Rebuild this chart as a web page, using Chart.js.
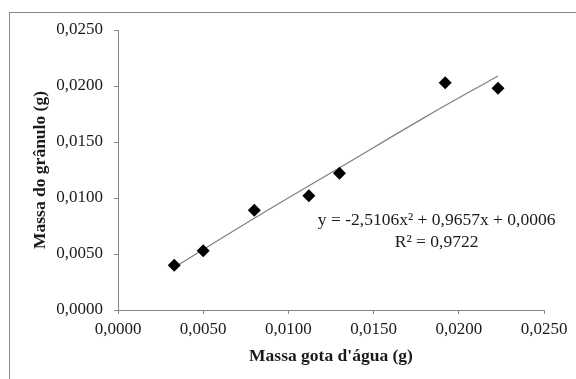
<!DOCTYPE html>
<html>
<head>
<meta charset="utf-8">
<script src="https://cdn.jsdelivr.net/npm/chart.js@4"></script>
<style>
  html, body { margin: 0; padding: 0; background: #fff; }
  #wrap { position: relative; width: 576px; height: 379px; overflow: hidden; }
  #frame { position: absolute; left: 9px; top: 12px; width: 700px; height: 500px; border: 1px solid #8a8a8a; }
  #grafico { position: absolute; left: 0; top: 0; }
</style>
</head>
<body>
<div id="wrap">
  <div id="frame"></div>
  <canvas id="grafico" width="576" height="379"></canvas>
</div>
<script>
// pontos medidos
const massaGota = [0.0033, 0.0050, 0.0080, 0.0112, 0.0130, 0.0192, 0.0223];
const massaGranulo = [0.0040, 0.0053, 0.0089, 0.0102, 0.0122, 0.0203, 0.0198];

// linha de tendência (polinomial)
const tendX = [0.0033, 0.0080, 0.0130, 0.0180, 0.0223];
const tendY = [0.0038, 0.0082, 0.0127, 0.0172, 0.0209];

const equacao = ["y = -2,5106x² + 0,9657x + 0,0006", "R² = 0,9722"];

const fonte = "'Liberation Serif', 'Times New Roman', serif";
const corEixo = "#868686";

const virgula = v => v.toFixed(4).replace(".", ",");

const textoEquacao = {
    id: "textoEquacao",
    afterDatasetsDraw(chart) {
        const { ctx, scales } = chart;
        const x = scales.x.getPixelForValue(0.0187);
        const y = scales.y.getPixelForValue(0.0080);
        ctx.save();
        ctx.font = "17.5px " + fonte;
        ctx.fillStyle = "#1a1a1a";
        ctx.textAlign = "center";
        ctx.textBaseline = "middle";
        equacao.forEach((linha, i) => ctx.fillText(linha, x, y + i * 22));
        ctx.restore();
    }
};

const ctx = document.getElementById("grafico").getContext("2d");

new Chart(ctx, {
    type: "scatter",
    data: {
        datasets: [
            {
                label: "Dados",
                data: massaGota.map((v, i) => ({ x: v, y: massaGranulo[i] })),
                pointStyle: "rectRot",
                pointRadius: 6.5,
                pointHoverRadius: 6.5,
                backgroundColor: "#000",
                borderColor: "#000",
                borderWidth: 0,
                order: 1,
            },
            {
                label: "Tendência",
                type: "line",
                data: tendX.map((v, i) => ({ x: v, y: tendY[i] })),
                borderColor: "#7f7f7f",
                borderWidth: 1.2,
                pointRadius: 0,
                tension: 0.4,
                fill: false,
                order: 2,
            },
        ],
    },
    options: {
        responsive: false,
        animation: false,
        layout: { padding: { top: 30, right: 32, left: 0, bottom: 0 } },
        plugins: {
            legend: { display: false },
            tooltip: { enabled: false },
        },
        scales: {
            x: {
                type: "linear",
                min: 0,
                max: 0.025,
                afterFit: s => { s.height = 69; },
                ticks: {
                    stepSize: 0.005,
                    callback: virgula,
                    color: "#1a1a1a",
                    padding: 5,
                    maxRotation: 0,
                    font: { family: fonte, size: 17 },
                },
                grid: { drawOnChartArea: false, drawTicks: true, tickLength: 4, color: corEixo },
                border: { color: corEixo, width: 1 },
                title: {
                    display: true,
                    text: "Massa gota d'água (g)",
                    color: "#1a1a1a",
                    padding: { top: 0, bottom: 12 },
                    font: { family: fonte, size: 17.5, weight: "bold" },
                },
            },
            y: {
                type: "linear",
                min: 0,
                max: 0.025,
                afterFit: s => { s.width = 118; },
                ticks: {
                    stepSize: 0.005,
                    callback: virgula,
                    color: "#1a1a1a",
                    padding: 11,
                    font: { family: fonte, size: 17 },
                },
                grid: { drawOnChartArea: false, drawTicks: true, tickLength: 4, color: corEixo },
                border: { color: corEixo, width: 1 },
                title: {
                    display: true,
                    text: "Massa do grânulo (g)",
                    color: "#1a1a1a",
                    padding: { top: 30, bottom: 0 },
                    font: { family: fonte, size: 17.5, weight: "bold" },
                },
            },
        },
    },
    plugins: [textoEquacao],
});
</script>
</body>
</html>
